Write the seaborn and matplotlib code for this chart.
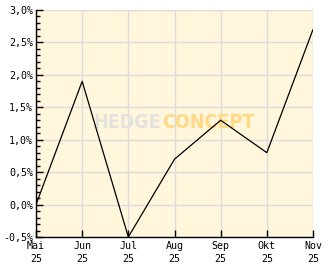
import matplotlib
matplotlib.use("Agg")
import matplotlib.pyplot as plt
import seaborn as sns
import pandas as pd
from matplotlib.ticker import MultipleLocator, FuncFormatter

months = ["Mai\n25", "Jun\n25", "Jul\n25", "Aug\n25", "Sep\n25", "Okt\n25", "Nov\n25"]
values = [0.0, 1.9, -0.5, 0.7, 1.3, 0.8, 2.7]

df = pd.DataFrame({"idx": list(range(len(months))), "value": values})

sns.set_style("white")
plt.rcParams["font.family"] = ["DejaVu Sans Mono"]

fig = plt.figure(figsize=(3.32, 2.69), dpi=100)
fig.patch.set_facecolor("white")
ax = fig.add_axes([36/332, 32/269, 277/332, 227/269])
ax.set_facecolor("#fff6dc")

# watermark
ax.text(0.452, 0.505, "HEDGE", transform=ax.transAxes, ha="right", va="center",
        fontsize=14, fontweight="bold", color="#e4e2dc", family="DejaVu Sans",
        fontstretch="condensed", zorder=1)
ax.text(0.455, 0.505, "CONCEPT", transform=ax.transAxes, ha="left", va="center",
        fontsize=14, fontweight="bold", color="#ffd985", family="DejaVu Sans",
        fontstretch="condensed", zorder=1)

sns.lineplot(data=df, x="idx", y="value", color="black", linewidth=0.9, ax=ax, zorder=3)

ax.set_xlim(0, len(months) - 1)
ax.set_ylim(-0.5, 3.0)
ax.set_xticks(range(len(months)))
ax.set_xticklabels(months, linespacing=1.3)
ax.yaxis.set_major_locator(MultipleLocator(0.5))
ax.yaxis.set_minor_locator(MultipleLocator(0.1))
ax.yaxis.set_major_formatter(FuncFormatter(lambda v, p: ("%.1f%%" % v).replace(".", ",")))
ax.set_xlabel("")
ax.set_ylabel("")

ax.grid(True, which="major", color="#dcdcdc", linewidth=1.0, zorder=0)
ax.set_axisbelow(True)
for s in ["top", "right"]:
    ax.spines[s].set_visible(False)
for s in ["left", "bottom"]:
    ax.spines[s].set_color("black")
    ax.spines[s].set_linewidth(1.0)

ax.tick_params(axis="y", which="major", direction="in", length=5, width=1, colors="black",
               labelsize=7.2, pad=2, left=True)
ax.tick_params(axis="y", which="minor", direction="in", length=3, width=1, colors="black", left=True)
ax.tick_params(axis="x", which="major", direction="in", length=5, width=1, colors="black",
               labelsize=7.2, pad=3, bottom=True)

fig.savefig("out.png", dpi=100)
